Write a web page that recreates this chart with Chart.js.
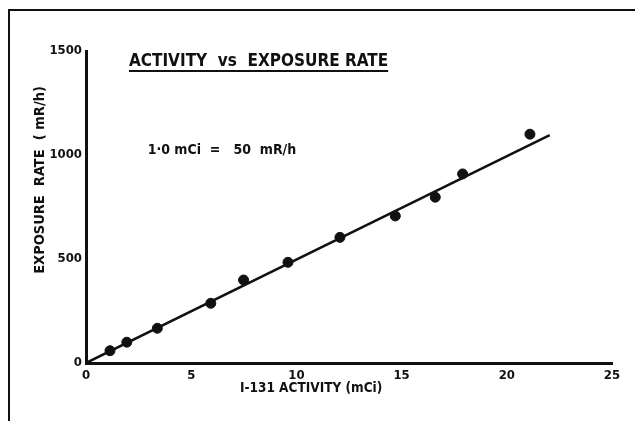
<!DOCTYPE html>
<html>
<head>
<meta charset="utf-8">
<script src="https://cdn.jsdelivr.net/npm/chart.js@4/dist/chart.umd.min.js"></script>
<style>
    html, body { margin: 0; padding: 0; background: #fff; }
    #wrap { width: 635px; height: 421px; position: relative; }
</style>
</head>
<body>
<div id="wrap"><canvas id="activityChart" width="635" height="421"></canvas></div>
<script>
// measured points, I-131 activity (mCi) vs exposure rate (mR/h)
var activity = [1.14, 1.94, 3.39, 5.93, 7.49, 9.6, 12.07, 14.7, 16.6, 17.9, 21.1];
var exposure = [59, 100, 167, 287, 399, 484, 604, 707, 797, 909, 1100];

// fitted line, 1.0 mCi = 50 mR/h
var fitX = [0, 22.04];
var fitY = [0, 1096];

var xTicks = [0, 5, 10, 15, 20, 25];
var yTicks = [0, 500, 1000, 1500];

var ink = '#111';
var font = "'DejaVu Sans Condensed', 'DejaVu Sans', sans-serif";

var points = activity.map(function (v, i) { return { x: v, y: exposure[i] }; });
var fitLine = fitX.map(function (v, i) { return { x: v, y: fitY[i] }; });

// texts drawn in data space + the frame around the figure
var textPlugin = {
    id: 'texts',
    afterDraw: function (chart) {
        var ctx = chart.ctx;
        var xs = chart.scales.x, ys = chart.scales.y;
        ctx.save();
        ctx.fillStyle = ink;
        ctx.strokeStyle = ink;

        // frame (left + top only)
        ctx.lineWidth = 2;
        ctx.beginPath();
        ctx.moveTo(9, 421);
        ctx.lineTo(9, 10);
        ctx.lineTo(635, 10);
        ctx.stroke();

        // title, underlined
        ctx.font = 'bold 17px ' + font;
        ctx.textAlign = 'center';
        ctx.textBaseline = 'middle';
        var tx = xs.getPixelForValue(8.2), ty = ys.getPixelForValue(1447);
        var title = 'ACTIVITY  vs  EXPOSURE RATE';
        ctx.fillText(title, tx, ty);
        var w = ctx.measureText(title).width;
        ctx.lineWidth = 1.8;
        ctx.beginPath();
        ctx.moveTo(tx - w / 2, ty + 9);
        ctx.lineTo(tx + w / 2, ty + 9);
        ctx.stroke();

        // annotation
        ctx.font = 'bold 14px ' + font;
        ctx.textAlign = 'left';
        ctx.fillText('1·0 mCi  =   50  mR/h', xs.getPixelForValue(2.93), ys.getPixelForValue(1024));

        // x axis title
        ctx.font = 'bold 13.5px ' + font;
        ctx.textAlign = 'center';
        ctx.fillText('I-131 ACTIVITY (mCi)', xs.getPixelForValue(10.7), 388);

        // y axis title
        ctx.font = 'bold 14.5px ' + font;
        ctx.translate(40, ys.getPixelForValue(880));
        ctx.rotate(-Math.PI / 2);
        ctx.fillText('EXPOSURE  RATE  ( mR/h)', 0, 0);
        ctx.restore();
    }
};

var plainTick = function (value) { return String(value); };

var ctx = document.getElementById('activityChart').getContext('2d');
var chart = new Chart(ctx, {
    type: 'scatter',
    data: {
        datasets: [{
            type: 'line',
            data: fitLine,
            borderColor: ink,
            borderWidth: 2.5,
            pointRadius: 0,
            fill: false
        }, {
            data: points,
            backgroundColor: ink,
            borderColor: ink,
            pointRadius: 5,
            pointHoverRadius: 5
        }]
    },
    options: {
        responsive: false,
        animation: false,
        layout: { padding: { left: 0, top: 51, right: 23, bottom: 0 } },
        plugins: {
            legend: { display: false },
            tooltip: { enabled: false }
        },
        scales: {
            x: {
                type: 'linear',
                min: 0,
                max: 25,
                afterBuildTicks: function (scale) {
                    scale.ticks = xTicks.map(function (v) { return { value: v }; });
                },
                afterFit: function (scale) { scale.height = 58; },
                grid: { display: false, tickLength: 0 },
                border: { display: true, width: 3, color: ink },
                ticks: {
                    color: ink,
                    padding: 5,
                    maxRotation: 0,
                    callback: plainTick,
                    font: { family: font, size: 13, weight: 'bold' }
                }
            },
            y: {
                type: 'linear',
                min: 0,
                max: 1500,
                afterBuildTicks: function (scale) {
                    scale.ticks = yTicks.map(function (v) { return { value: v }; });
                },
                afterFit: function (scale) { scale.width = 86; },
                grid: { display: false, tickLength: 0 },
                border: { display: true, width: 3, color: ink },
                ticks: {
                    color: ink,
                    padding: 4,
                    callback: plainTick,
                    font: { family: font, size: 13, weight: 'bold' }
                }
            }
        }
    },
    plugins: [textPlugin]
});
</script>
</body>
</html>
